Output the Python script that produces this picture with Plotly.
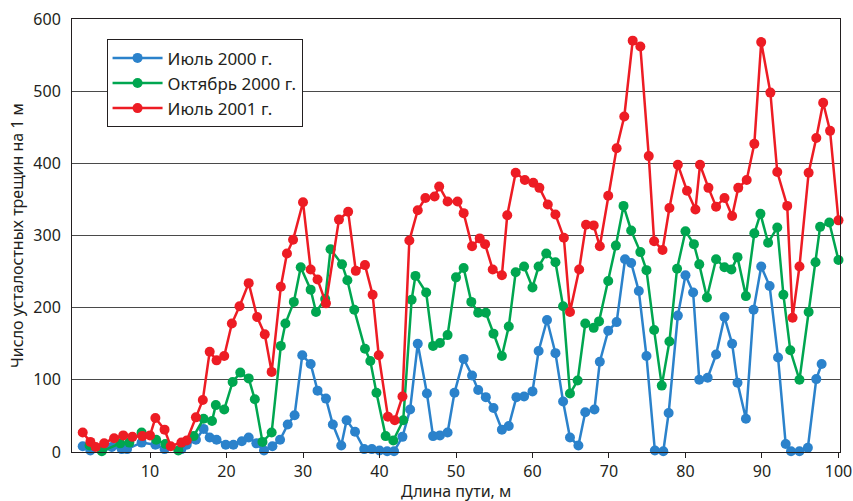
import plotly.graph_objects as go

x_jul2000 = [1.2, 2.2, 4.0, 5.0, 6.3, 7.0, 8.9, 10.7, 11.9, 14.1,
             14.8, 16.0, 17.0, 17.8, 18.7, 19.9, 20.9, 22.0, 22.9, 23.9,
             24.9, 26.0, 27.0, 28.0, 28.9, 29.9, 31.0, 31.9, 33.0, 33.9,
             35.0, 35.7, 36.8, 38.0, 39.0, 40.0, 41.0, 41.9, 43.0, 44.0,
             45.0, 46.2, 47.0, 47.9, 48.9, 49.8, 51.0, 52.1, 52.9, 53.9,
             54.9, 56.0, 56.9, 57.9, 58.9, 60.0, 60.8, 61.9, 63.0, 64.0,
             64.9, 66.0, 66.9, 68.1, 68.8, 69.9, 71.0, 72.1, 72.9, 73.9,
             74.9, 76.0, 77.1, 77.8, 79.0, 80.0, 81.0, 81.8, 82.9, 84.0,
             85.1, 86.1, 86.8, 87.9, 88.9, 89.9, 91.0, 92.1, 93.1, 93.8,
             94.9, 96.0, 97.1, 97.8]
y_jul2000 = [8, 2, 7, 7, 4, 4, 13, 10, 4, 4,
             10, 17, 32, 20, 17, 10, 10, 15, 20, 12,
             2, 8, 17, 38, 51, 134, 122, 85, 74, 38,
             9, 44, 28, 4, 4, 2, 1, 1, 21, 59,
             150, 81, 22, 23, 27, 82, 129, 106, 86, 76,
             61, 31, 36, 76, 77, 84, 140, 183, 137, 70,
             20, 9, 55, 59, 125, 168, 180, 267, 262, 223,
             133, 2, 1, 54, 189, 245, 221, 100, 103, 135,
             187, 150, 96, 46, 197, 257, 230, 131, 11, 1,
             1, 6, 101, 122]

x_oct2000 = [2.1, 3.7, 6.1, 7.3, 8.9, 10.8, 12.0, 13.7, 15.7, 17.0,
             18.1, 18.6, 19.7, 20.8, 21.8, 22.9, 23.7, 24.7, 25.9, 27.1,
             27.7, 28.8, 29.7, 31.0, 31.7, 32.9, 33.6, 35.1, 35.8, 36.7,
             38.1, 38.8, 39.6, 40.8, 41.8, 43.1, 44.2, 44.7, 46.1, 47.0,
             47.9, 48.9, 50.0, 51.0, 52.0, 52.9, 53.9, 54.9, 56.0, 56.9,
             57.8, 58.9, 60.0, 60.8, 61.8, 63.0, 64.0, 64.9, 65.9, 66.9,
             68.0, 68.7, 69.9, 70.9, 71.9, 72.9, 74.1, 74.9, 75.9, 76.9,
             77.9, 78.9, 80.0, 81.1, 81.8, 82.8, 84.0, 85.1, 86.0, 86.8,
             87.9, 89.0, 89.8, 90.8, 92.0, 92.8, 93.7, 94.9, 96.1, 97.0,
             97.6, 98.8, 100.0]
y_oct2000 = [9, 1, 12, 13, 27, 17, 11, 2, 22, 46,
             43, 65, 59, 97, 110, 102, 73, 14, 27, 147,
             178, 208, 256, 225, 194, 212, 281, 260, 238, 197,
             143, 126, 82, 22, 16, 44, 211, 244, 221, 147,
             151, 162, 242, 255, 208, 193, 193, 164, 133, 174,
             249, 257, 228, 257, 275, 263, 202, 81, 99, 178,
             172, 181, 237, 286, 341, 307, 277, 252, 169, 92,
             153, 254, 306, 288, 260, 214, 267, 256, 253, 270,
             216, 303, 330, 290, 311, 218, 141, 100, 194, 263,
             312, 318, 266]

x_jul2001 = [1.2, 2.2, 2.9, 4.0, 5.3, 6.5, 7.7, 9.0, 10.0, 10.7,
             11.9, 12.7, 14.1, 14.8, 16.0, 16.9, 17.8, 18.7, 19.7, 20.7,
             21.7, 22.9, 24.0, 25.0, 25.9, 27.1, 27.9, 28.7, 30.0, 31.0,
             31.9, 33.0, 34.7, 35.9, 36.9, 38.1, 39.1, 39.9, 41.1, 42.0,
             43.0, 43.9, 45.0, 46.0, 47.2, 47.8, 48.9, 50.2, 51.0, 52.1,
             53.1, 53.8, 54.8, 56.0, 56.7, 57.8, 59.0, 60.1, 60.9, 62.0,
             63.0, 64.1, 64.9, 66.1, 67.0, 68.0, 68.8, 69.9, 71.0, 72.0,
             73.1, 74.1, 75.2, 75.9, 77.0, 77.9, 79.0, 80.2, 81.3, 81.9,
             83.0, 84.0, 85.1, 86.1, 86.9, 88.0, 89.0, 89.9, 91.1, 92.0,
             93.3, 94.0, 94.9, 96.1, 97.1, 98.0, 98.9, 100.0]
y_jul2001 = [27, 14, 7, 12, 19, 23, 21, 22, 23, 47,
             31, 8, 13, 16, 48, 72, 139, 127, 133, 178,
             202, 234, 187, 163, 111, 229, 275, 294, 346, 253,
             239, 206, 322, 333, 251, 259, 218, 134, 49, 44,
             77, 293, 335, 352, 354, 368, 347, 347, 331, 285,
             296, 288, 253, 245, 328, 387, 377, 373, 366, 343,
             329, 297, 194, 253, 315, 314, 285, 355, 421, 465,
             570, 562, 410, 292, 280, 338, 398, 362, 336, 398,
             366, 340, 352, 327, 366, 377, 427, 568, 498, 388,
             341, 186, 257, 387, 435, 484, 445, 321]

series = [
    ("Июль 2000 г.", x_jul2000, y_jul2000, "#2B82CB"),
    ("Октябрь 2000 г.", x_oct2000, y_oct2000, "#00A650"),
    ("Июль 2001 г.", x_jul2001, y_jul2001, "#ED1C24"),
]

x_ticks = [10, 20, 30, 40, 50, 60, 70, 80, 90, 100]
y_ticks = [0, 100, 200, 300, 400, 500, 600]
x_title = "Длина пути, м"
y_title = "Число усталостных трещин на 1 м"

FONT = "Noto Sans"
INK = "#231F20"

fig = go.Figure()
for name, xs, ys, col in series:
    fig.add_trace(go.Scatter(
        x=xs, y=ys, name=name, mode="lines+markers",
        line=dict(color=col, width=2.5),
        marker=dict(color=col, size=10),
        cliponaxis=False,
    ))

fig.update_layout(
    width=853, height=501,
    margin=dict(l=72, r=13, t=19, b=49, autoexpand=False),
    paper_bgcolor="white", plot_bgcolor="white",
    font=dict(family=FONT, size=16, color=INK),
    showlegend=True,
    legend=dict(
        x=0.045, y=0.953, xanchor="left", yanchor="top",
        bgcolor="white", bordercolor=INK, borderwidth=1,
        font=dict(family=FONT, size=17, color=INK),
        tracegroupgap=0, itemwidth=50,
    ),
    annotations=[dict(
        text=x_title, xref="paper", yref="paper", x=0.5, y=-0.090,
        xanchor="center", yanchor="middle", showarrow=False,
        font=dict(family=FONT, size=16, color=INK),
    )],
)
fig.update_xaxes(
    range=[-0.2, 100.2], tickvals=x_ticks, ticktext=[str(v) for v in x_ticks],
    showgrid=False, zeroline=False,
    showline=True, linecolor=INK, linewidth=1, mirror=True,
    ticks="outside", ticklen=5, tickcolor=INK,
    tickfont=dict(family=FONT, size=16, color=INK),
)
fig.update_yaxes(
    range=[0, 600], tickvals=y_ticks, ticktext=[str(v) for v in y_ticks],
    showgrid=True, gridcolor="#4a4a4a", gridwidth=1, zeroline=False,
    showline=True, linecolor=INK, linewidth=1, mirror=True,
    ticks="", ticklabelstandoff=7,
    tickfont=dict(family=FONT, size=16, color=INK),
    title=dict(text=y_title, font=dict(family=FONT, size=16), standoff=5),
)

fig.write_html("out.html", config={"displayModeBar": False},
               post_script="document.body.style.margin='0';")
